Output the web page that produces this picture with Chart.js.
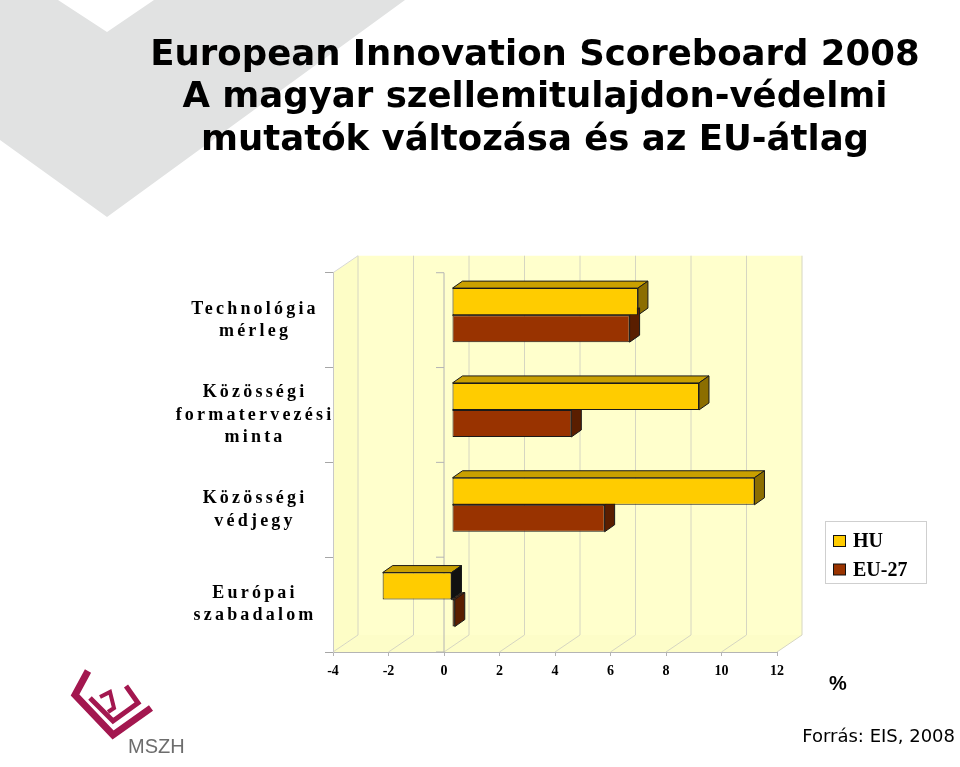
<!DOCTYPE html>
<html>
<head>
<meta charset="utf-8">
<title>European Innovation Scoreboard 2008</title>
<script src="https://cdn.jsdelivr.net/npm/chart.js@4.4.1/dist/chart.umd.min.js"></script>
<style>
  html, body { margin: 0; padding: 0; background: #fff; }
  canvas { display: block; }
</style>
</head>
<body>
<canvas id="chart" width="960" height="767"></canvas>
<script>
const titleLines = [
    'European Innovation Scoreboard 2008',
    'A magyar szellemitulajdon-védelmi',
    'mutatók változása és az EU-átlag'
]
const categories = [
    ['Technológia', 'mérleg'],
    ['Közösségi', 'formatervezési', 'minta'],
    ['Közösségi', 'védjegy'],
    ['Európai', 'szabadalom']
]
const huValues = [6.7, 8.9, 10.9, -2.5]
const euValues = [6.4, 4.3, 5.5, 0.1]
const xTickValues = [-4, -2, 0, 2, 4, 6, 8, 10, 12]

// fake 3d: walls/floor offset, bars sit a bit behind the front plane
const WALL = {x: 25, y: -17}
const BAR_SHIFT = {x: 8, y: -5}
const BAR_DEPTH = {x: 10, y: -7}

function poly(ctx, pts, fill, stroke) {
    ctx.beginPath()
    pts.forEach(([px, py], i) => i ? ctx.lineTo(px, py) : ctx.moveTo(px, py))
    ctx.closePath()
    if (fill) { ctx.fillStyle = fill; ctx.fill() }
    if (stroke) { ctx.strokeStyle = stroke; ctx.stroke() }
}

function line(ctx, x1, y1, x2, y2) {
    ctx.beginPath()
    ctx.moveTo(x1, y1)
    ctx.lineTo(x2, y2)
    ctx.stroke()
}

const backdrop = {
    id: 'backdrop',
    beforeDraw(chart) {
        const ctx = chart.ctx
        const {left, right, top, bottom} = chart.chartArea
        const xs = chart.scales.x, ys = chart.scales.y
        ctx.save()

        // grey chevron in the corner
        poly(ctx, [[0, 0], [58, 0], [107, 32], [154, 0], [405, 0], [107, 217], [0, 140]], '#e1e2e2')

        // walls and floor
        ctx.lineWidth = 1
        poly(ctx, [[left + WALL.x, top + WALL.y], [right + WALL.x, top + WALL.y],
            [right + WALL.x, bottom + WALL.y], [left + WALL.x, bottom + WALL.y]], '#ffffcc')
        poly(ctx, [[left, top], [left + WALL.x, top + WALL.y], [left + WALL.x, bottom + WALL.y], [left, bottom]], '#fdfdc6')
        poly(ctx, [[left, bottom], [right, bottom], [right + WALL.x, bottom + WALL.y], [left + WALL.x, bottom + WALL.y]], '#fdfdc8')

        ctx.strokeStyle = '#d6d6c2'
        xTickValues.forEach(v => {
            const px = xs.getPixelForValue(v)
            line(ctx, px + WALL.x, top + WALL.y, px + WALL.x, bottom + WALL.y)
            line(ctx, px, bottom, px + WALL.x, bottom + WALL.y)
        })
        ctx.strokeStyle = '#d8d8d8'
        line(ctx, left, top, left + WALL.x, top + WALL.y)

        // category axis sitting at value 0
        const x0 = xs.getPixelForValue(0)
        ctx.strokeStyle = '#b4b4b4'
        line(ctx, x0, top, x0, bottom)
        const band = (ys.bottom - ys.top) / categories.length
        for (let i = 0; i <= categories.length; i++) {
            line(ctx, x0 - 8, ys.top + i * band, x0, ys.top + i * band)
        }

        // MSZH logo
        ctx.strokeStyle = '#a3174f'
        ctx.lineJoin = 'miter'
        ctx.lineWidth = 7
        ctx.beginPath()
        ctx.moveTo(88, 671); ctx.lineTo(75, 695); ctx.lineTo(113, 735); ctx.lineTo(151, 708)
        ctx.stroke()
        ctx.lineWidth = 5
        ctx.beginPath()
        ctx.moveTo(90, 698); ctx.lineTo(113, 721); ctx.lineTo(138, 703); ctx.lineTo(126, 686)
        ctx.stroke()
        ctx.lineWidth = 4
        ctx.beginPath()
        ctx.moveTo(100, 697); ctx.lineTo(110, 692); ctx.lineTo(114, 708); ctx.lineTo(108, 712)
        ctx.stroke()
        ctx.restore()
    }
}

const bars3d = {
    id: 'bars3d',
    beforeDatasetsDraw(chart) {
        const ctx = chart.ctx
        ctx.save()
        ctx.translate(BAR_SHIFT.x, BAR_SHIFT.y)
        ctx.lineWidth = 1
        const dx = BAR_DEPTH.x, dy = BAR_DEPTH.y
        categories.forEach((c, j) => {
            chart.data.datasets.forEach((ds, i) => {
                const el = chart.getDatasetMeta(i).data[j]
                const {x, y, base, height} = el.getProps(['x', 'y', 'base', 'height'], true)
                const l = Math.min(x, base), r = Math.max(x, base)
                const t = y - height / 2, b = y + height / 2
                poly(ctx, [[l, t], [l + dx, t + dy], [r + dx, t + dy], [r, t]], ds.topColor, '#1a1a1a')
                poly(ctx, [[r, t], [r + dx, t + dy], [r + dx, b + dy], [r, b]],
                    ds.data[j] < 0 ? '#111111' : ds.sideColor, '#1a1a1a')
            })
        })
        // translate stays on while the front faces are drawn
    },
    afterDatasetsDraw(chart) {
        chart.ctx.restore()
    }
}

// the category labels in the original are widely letter-spaced
const spacedLabels = {
    id: 'spacedLabels',
    beforeDraw(chart) {
        const s = chart.scales.y
        if (s._spaced) return
        const orig = s.drawLabels
        s.drawLabels = function (area) {
            chart.ctx.save()
            chart.ctx.letterSpacing = '3.2px'
            orig.call(this, area)
            chart.ctx.restore()
        }
        s._spaced = true
    }
}

const extras = {
    id: 'extras',
    afterDraw(chart) {
        const ctx = chart.ctx
        ctx.save()

        // legend
        ctx.lineWidth = 1
        ctx.fillStyle = '#ffffff'
        ctx.strokeStyle = '#cfcfcf'
        ctx.fillRect(825.5, 521.5, 101, 62)
        ctx.strokeRect(825.5, 521.5, 101, 62)
        ctx.font = 'bold 20px "Liberation Serif"'
        ctx.textBaseline = 'alphabetic'
        chart.data.datasets.forEach((ds, i) => {
            const yb = 547 + i * 28.5
            ctx.fillStyle = ds.backgroundColor
            ctx.fillRect(833.5, yb - 11.5, 12, 11)
            ctx.strokeStyle = '#111'
            ctx.strokeRect(833.5, yb - 11.5, 12, 11)
            ctx.fillStyle = '#000'
            ctx.fillText(ds.label, 853, yb)
        })

        ctx.font = 'bold 20px "Liberation Sans"'
        ctx.textAlign = 'center'
        ctx.fillText('%', 838, 690)

        ctx.font = '18px "DejaVu Sans"'
        ctx.textAlign = 'right'
        ctx.fillText('Forrás: EIS, 2008', 955, 742)

        ctx.font = '20px "Liberation Sans"'
        ctx.textAlign = 'left'
        ctx.fillStyle = '#6d6d6d'
        ctx.fillText('MSZH', 128, 753)
        ctx.restore()
    }
}

new Chart(document.getElementById('chart'), {
    type: 'bar',
    data: {
        labels: categories,
        datasets: [
            {
                label: 'HU',
                data: huValues,
                backgroundColor: '#ffcc00',
                topColor: '#c9a000',
                sideColor: '#8c6e00',
                borderColor: '#1a1a1a',
                borderWidth: 1,
                borderSkipped: false
            },
            {
                label: 'EU-27',
                data: euValues,
                backgroundColor: '#993300',
                topColor: '#7a2900',
                sideColor: '#5a1e00',
                borderColor: '#1a1a1a',
                borderWidth: 1,
                borderSkipped: false
            }
        ]
    },
    options: {
        indexAxis: 'y',
        responsive: false,
        animation: false,
        categoryPercentage: 0.57,
        barPercentage: 1,
        layout: {padding: {left: 110, right: 0, top: 0, bottom: 75}},
        plugins: {
            legend: {display: false},
            tooltip: {enabled: false},
            title: {
                display: true,
                text: titleLines,
                color: '#000',
                font: {family: 'DejaVu Sans', size: 35.5, weight: 'bold', lineHeight: 1.205},
                padding: {top: 34, bottom: 110.4}
            }
        },
        scales: {
            x: {
                min: xTickValues[0],
                max: xTickValues[xTickValues.length - 1],
                afterBuildTicks(scale) {
                    scale.ticks = xTickValues.map(v => ({value: v}))
                },
                afterFit(scale) {
                    scale.height = 40
                    scale.paddingRight = 183
                },
                grid: {display: true, drawOnChartArea: false, drawTicks: true, tickLength: 4, color: '#b4b4b4'},
                border: {display: true, color: '#b4b4b4'},
                ticks: {
                    padding: 7,
                    color: '#000',
                    font: {family: 'Liberation Serif', size: 14, weight: 'bold'}
                }
            },
            y: {
                afterFit(scale) {
                    scale.width = 223
                },
                grid: {display: true, drawOnChartArea: false, drawTicks: true, tickLength: 8, color: '#a6a6a6'},
                border: {display: true, color: '#c8c8c8'},
                ticks: {
                    autoSkip: false,
                    crossAlign: 'center',
                    padding: 13,
                    color: '#000',
                    font: {family: 'Liberation Serif', size: 18, weight: 'bold', lineHeight: 1.25}
                }
            }
        }
    },
    plugins: [backdrop, bars3d, spacedLabels, extras]
})
</script>
</body>
</html>
